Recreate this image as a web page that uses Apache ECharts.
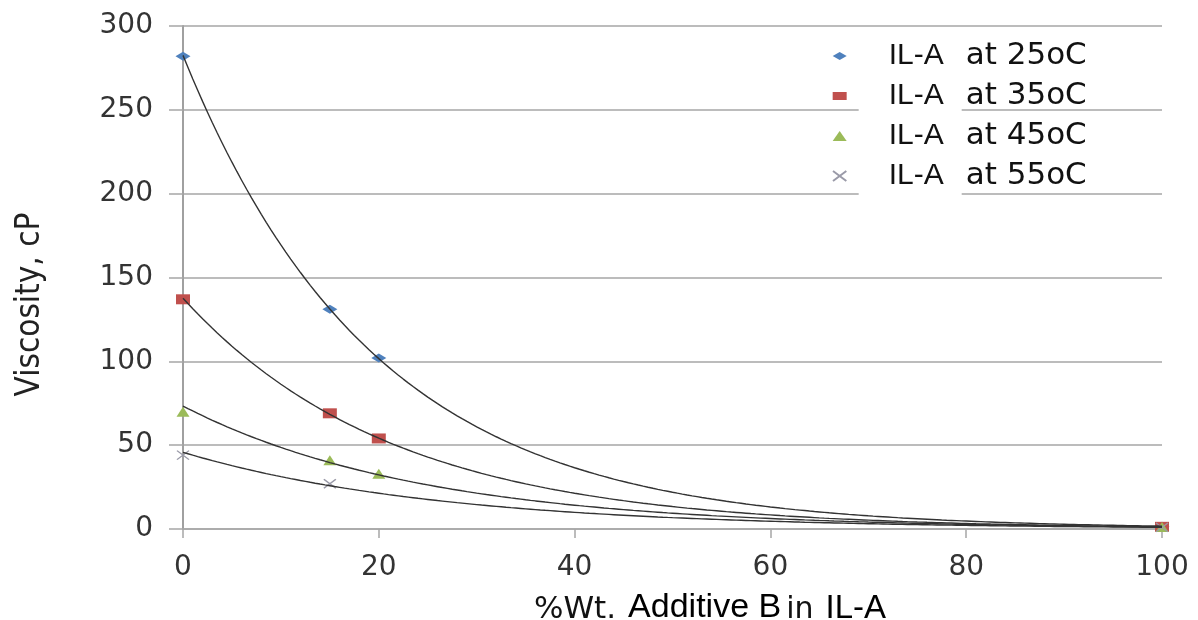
<!DOCTYPE html>
<html>
<head>
<meta charset="utf-8">
<script src="https://cdn.jsdelivr.net/npm/echarts@6/dist/echarts.min.js"></script>
<style>
  html, body { margin: 0; padding: 0; background: #ffffff; }
  #chart { width: 1198px; height: 620px; }
</style>
</head>
<body>
<div id="chart"></div>
<script>
// Additive B loading (% wt.) of each measured blend
const additivePct = [0, 15, 20, 100];

// Measured viscosity (cP) of the IL-A blends at each temperature
const visc25 = [282, 131, 102, 1.7];
const visc35 = [137, 69, 54, 1.3];
const visc45 = [70, 41, 33, 1.2];
const visc55 = [44, 27, null, 1.0];

const temperatures = ['25oC', '35oC', '45oC', '55oC'];
const seriesNames = temperatures.map(t => 'IL-A at ' + t);

// Axis ticks
const xTicks = [0, 20, 40, 60, 80, 100];
const yTicks = [0, 50, 100, 150, 200, 250, 300];

const measured = [visc25, visc35, visc45, visc55];
const colors = ['#4f81bd', '#c0504d', '#9bbb59', '#9a9aa8'];
const markers = [
  { symbol: 'diamond', size: [15, 9] },
  { symbol: 'rect', size: [14, 10] },
  { symbol: 'triangle', size: [13, 10] },
  { symbol: 'path://M0,0L12,9M12,0L0,9', size: [12, 9] }
];
const legendIcons = [
  'path://M0,4L7,0L14,4L7,8Z',
  'path://M0,0H14V8H0Z',
  'path://M5,0L10,7H0Z',
  'path://M0,0L12,9M12,0L0,9'
];

// Exponential trendline y = a*e^(b*x), least squares on ln(y)
function expFit(xs, ys) {
  const pts = xs.map((x, i) => [x, ys[i]]).filter(p => p[1] != null && p[1] > 0);
  const n = pts.length;
  let sx = 0, sy = 0, sxx = 0, sxy = 0;
  pts.forEach(([x, y]) => {
    const ly = Math.log(y);
    sx += x; sy += ly; sxx += x * x; sxy += x * ly;
  });
  const b = (n * sxy - sx * sy) / (n * sxx - sx * sx);
  const lnA = (sy - b * sx) / n;
  return x => Math.exp(lnA + b * x);
}

function trendPoints(fit) {
  const out = [];
  const x0 = xTicks[0], x1 = xTicks[xTicks.length - 1];
  for (let x = x0; x <= x1; x += 0.5) out.push([x, fit(x)]);
  return out;
}

const tickFont = 'DejaVu Sans';
const axisGray = '#a6a6a6';

const scatterSeries = measured.map((vals, i) => ({
  name: seriesNames[i],
  type: 'scatter',
  data: additivePct.map((x, j) => [x, vals[j]]).filter(p => p[1] != null),
  symbol: markers[i].symbol,
  symbolSize: markers[i].size,
  itemStyle: {
    color: colors[i],
    borderColor: colors[i],
    borderWidth: i === 3 ? 1.3 : 0,
    opacity: 1
  },
  z: 3,
  silent: true
}));

const trendSeries = measured.map((vals, i) => ({
  name: 'Trend ' + temperatures[i],
  type: 'line',
  data: trendPoints(expFit(additivePct, vals)),
  showSymbol: false,
  symbol: 'none',
  smooth: false,
  lineStyle: { color: '#333333', width: 1.4 },
  z: 4,
  silent: true
}));

const chart = echarts.init(document.getElementById('chart'), null, { renderer: 'canvas' });

chart.setOption({
  animation: false,
  backgroundColor: '#ffffff',
  grid: { left: 183, right: 36, top: 26, bottom: 91, containLabel: false, outerBoundsMode: 'none' },
  xAxis: {
    type: 'value',
    min: xTicks[0],
    max: xTicks[xTicks.length - 1],
    interval: xTicks[1] - xTicks[0],
    axisLine: { show: true, onZero: false, lineStyle: { color: axisGray, width: 1.5 } },
    axisTick: { show: true, length: 9, lineStyle: { color: axisGray, width: 1.5 } },
    splitLine: { show: false },
    axisLabel: {
      fontFamily: tickFont, fontSize: 28, color: '#333333', margin: 25,
      formatter: v => String(v)
    },
    name: '{p|%Wt.}{a|Additive B}{i|in}{l|IL-A}',
    nameLocation: 'middle',
    nameGap: 62,
    nameTextStyle: {
      padding: [0, 0, 0, 75],
      rich: {
        p: { fontFamily: 'DejaVu Sans', fontSize: 31, color: '#111111', verticalAlign: 'bottom' },
        a: { fontFamily: 'Liberation Sans', fontSize: 34, color: '#000000', verticalAlign: 'bottom', padding: [0, 0, 0, 12] },
        i: { fontFamily: 'DejaVu Sans', fontSize: 30, color: '#111111', verticalAlign: 'bottom', padding: [0, 0, 0, 5] },
        l: { fontFamily: 'Liberation Sans', fontSize: 33, color: '#000000', verticalAlign: 'bottom', padding: [0, 0, 0, 12] }
      }
    }
  },
  yAxis: {
    type: 'value',
    min: yTicks[0],
    max: yTicks[yTicks.length - 1],
    interval: yTicks[1] - yTicks[0],
    axisLine: { show: true, lineStyle: { color: '#a0a0a0', width: 2 } },
    axisTick: { show: true, length: 14, lineStyle: { color: axisGray, width: 1.5 } },
    splitLine: { show: true, lineStyle: { color: axisGray, width: 1.5 } },
    axisLabel: { fontFamily: tickFont, fontSize: 28, color: '#333333', margin: 30 },
    name: 'Viscosity, cP',
    nameLocation: 'middle',
    nameRotate: 90,
    nameGap: 136,
    nameTextStyle: {
      fontFamily: '"Liberation Sans Narrow", "DejaVu Sans Condensed", sans-serif',
      fontSize: 33,
      color: '#222222',
      padding: [0, 54, 0, 0]
    }
  },
  legend: {
    data: seriesNames.map((n, i) => ({ name: n, icon: legendIcons[i] })),
    orient: 'vertical',
    left: 832,
    top: 37,
    padding: 0,
    itemGap: 2,
    itemWidth: 14,
    itemHeight: 10,
    selectedMode: false,
    formatter: name => {
      const parts = name.split(' at ');
      return '{s| }{a|' + parts[0] + '}{b|at ' + parts[1] + '}';
    },
    textStyle: {
      rich: {
        s: { width: 7, fontSize: 10 },
        a: {
          fontFamily: 'Liberation Sans', fontSize: 30, color: '#111111',
          backgroundColor: '#ffffff', padding: [4, 18, 4, 30]
        },
        b: {
          fontFamily: 'DejaVu Sans', fontSize: 31, color: '#111111',
          padding: [0, 0, 0, 4]
        }
      }
    }
  },
  series: scatterSeries.concat(trendSeries)
});
</script>
</body>
</html>
